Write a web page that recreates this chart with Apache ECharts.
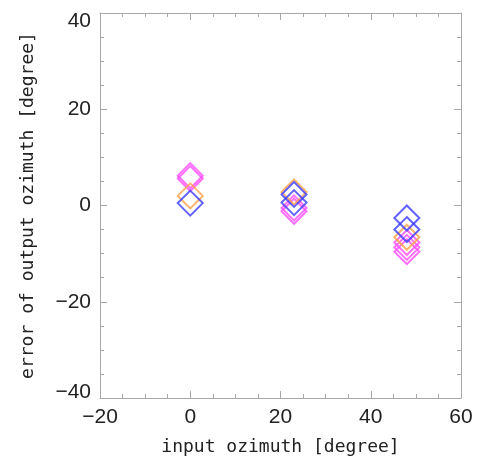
<!DOCTYPE html>
<html>
<head>
<meta charset="utf-8">
<script src="https://cdn.jsdelivr.net/npm/echarts@6/dist/echarts.min.js"></script>
<style>
  html, body { margin: 0; padding: 0; background: #fff; }
  #chart { width: 477px; height: 461px; }
</style>
</head>
<body>
<div id="chart"></div>
<script>
// Input azimuth (x) and azimuth error (y) for each retrieval run, grouped by colour
const pinkAzimuth   = [0, 0, 23, 23, 48, 48, 48];
const pinkError     = [6.2, 5.6, -0.5, -1.2, -7.7, -8.7, -9.6];
const orangeAzimuth = [0, 23, 48];
const orangeError   = [2.0, 2.8, -6.6];
const blueAzimuth   = [0, 23, 23, 48, 48];
const blueError     = [0.5, 2.3, 0.6, -2.6, -5.0];

const xTicks = [-20, 0, 20, 40, 60];
const yTicks = [-40, -20, 0, 20, 40];

const xTitle = 'input ozimuth [degree]';
const yTitle = 'error of output ozimuth [degree]';

function pairs(xs, ys) {
  return xs.map((x, i) => [x, ys[i]]);
}

const axisGray = '#a8a8a8';
const labelFont = '"Liberation Sans", Arial, sans-serif';
const titleFont = '"DejaVu Sans Mono", monospace';

function frameAxis(extra) {
  return Object.assign({
    type: 'value',
    interval: 20,
    axisLine: { show: true, onZero: false, lineStyle: { color: axisGray, width: 1 } },
    axisTick: { show: true, inside: true, length: 7, lineStyle: { color: axisGray } },
    minorTick: { show: true, splitNumber: 4, length: 4, lineStyle: { color: axisGray } },
    splitLine: { show: false },
    minorSplitLine: { show: false }
  }, extra);
}

function diamondSeries(name, color, data) {
  return {
    name: name,
    type: 'scatter',
    xAxisIndex: 0,
    yAxisIndex: 0,
    symbol: 'diamond',
    symbolSize: [25, 25],
    data: data,
    itemStyle: { color: 'rgba(0,0,0,0)', borderColor: color, borderWidth: 2 },
    emphasis: { disabled: true },
    silent: true
  };
}

const chart = echarts.init(document.getElementById('chart'), null, { renderer: 'canvas' });

chart.setOption({
  animation: false,
  backgroundColor: '#ffffff',
  grid: { left: 100, right: 16, top: 13, bottom: 61, containLabel: false },
  xAxis: [
    frameAxis({
      min: xTicks[0], max: xTicks[xTicks.length - 1], position: 'bottom',
      name: xTitle, nameLocation: 'middle', nameGap: 40,
      nameTextStyle: { fontFamily: titleFont, fontSize: 18, color: '#222' },
      axisLabel: { margin: 9, fontFamily: labelFont, fontSize: 21, color: '#222',
        formatter: v => String(v).replace('-', '\u2212') }
    }),
    frameAxis({
      min: xTicks[0], max: xTicks[xTicks.length - 1], position: 'top',
      axisLabel: { show: false }
    })
  ],
  yAxis: [
    frameAxis({
      min: yTicks[0], max: yTicks[yTicks.length - 1], position: 'left',
      name: yTitle, nameLocation: 'middle', nameGap: 63, nameRotate: 90,
      nameTextStyle: { fontFamily: titleFont, fontSize: 18, color: '#222' },
      axisLabel: {
        margin: 9, fontFamily: labelFont, fontSize: 21, color: '#222',
        formatter: v => {
          const t = String(v).replace('-', '\u2212');
          if (v === yTicks[yTicks.length - 1]) return '{top|' + t + '}';
          if (v === yTicks[0]) return '{bot|' + t + '}';
          return t;
        },
        rich: {
          top: { fontFamily: labelFont, fontSize: 21, color: '#222', padding: [16, 0, 0, 0] },
          bot: { fontFamily: labelFont, fontSize: 21, color: '#222', padding: [0, 0, 12, 0] }
        }
      }
    }),
    frameAxis({
      min: yTicks[0], max: yTicks[yTicks.length - 1], position: 'right',
      axisLabel: { show: false }
    })
  ],
  series: [
    diamondSeries('pink', '#ff4cff', pairs(pinkAzimuth, pinkError)),
    diamondSeries('orange', '#ffa348', pairs(orangeAzimuth, orangeError)),
    diamondSeries('blue', '#3c3cff', pairs(blueAzimuth, blueError))
  ]
});
</script>
</body>
</html>
